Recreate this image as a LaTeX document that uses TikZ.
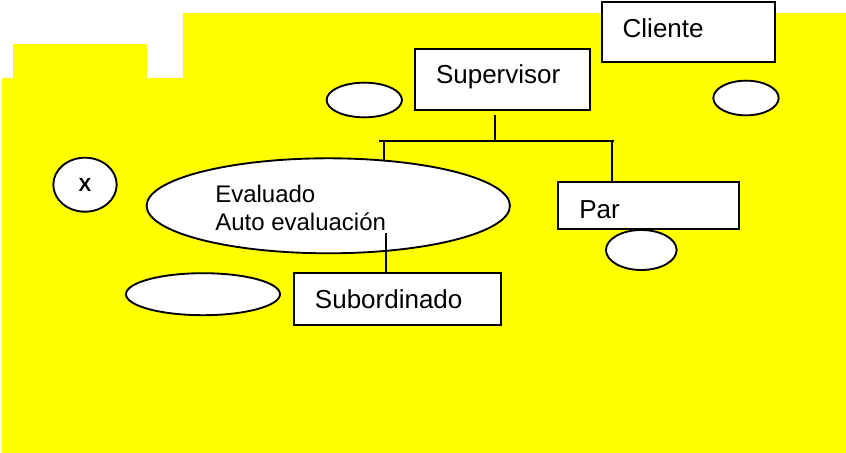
\documentclass[tikz,border=0pt]{standalone}
\usepackage{fontspec}
\setmainfont{Liberation Sans}
\usetikzlibrary{shapes.geometric}
\definecolor{bgyellow}{RGB}{255,255,0}
\tikzset{
  box/.style={draw=black, line width=1.5pt, fill=white, rectangle, inner xsep=0pt, inner ysep=0pt,
    align=left, text depth=0pt, font=\fontsize{19.5pt}{23pt}\selectfont},
  oval/.style={draw=black, line width=1.4pt, fill=white, ellipse, inner sep=0pt},
  lbl/.style={inner sep=0pt, anchor=base west, font=\fontsize{18pt}{21pt}\selectfont},
  conn/.style={draw=black, line width=1.4pt}
}
\begin{document}
\begin{tikzpicture}[x=0.75pt, y=-0.75pt]
\useasboundingbox (0,0) rectangle (846,453);
% background
\fill[bgyellow] (2,78) -- (13,78) -- (13,44) -- (147,44) -- (147,78) -- (183,78) -- (183,13)
  -- (846,13) -- (846,453) -- (2,453) -- cycle;

% boxes
\node[box, minimum width=131.5pt, minimum height=46pt, text width=99.5pt, text height=6pt]
  (sup) at (502.35,79.65) {Supervisor};
\node[box, minimum width=129.5pt, minimum height=44.8pt, text width=98.5pt, text height=8.4pt]
  (cli) at (688.35,32.15) {Cliente};
\node[box, minimum width=135.75pt, minimum height=35.25pt, text width=103.75pt, text height=19.2pt]
  (par) at (648.5,205.5) {Par};
\node[box, minimum width=155pt, minimum height=38.8pt, text width=124pt, text height=13.8pt]
  (sub) at (397.65,299.15) {Subordinado};

% ellipses
\node[oval, minimum width=56.5pt, minimum height=26pt] (ovTL) at (364.3,100) {};
\node[oval, minimum width=49pt, minimum height=26pt] (ovTR) at (746,98) {};
\node[oval, minimum width=53pt, minimum height=30pt] (ovPar) at (641.3,250) {};
\node[oval, minimum width=115.5pt, minimum height=31.5pt] (ovBL) at (203,294.2) {};
\node[oval, minimum width=47.55pt, minimum height=40.5pt, font=\fontsize{14.25pt}{17pt}\selectfont\bfseries]
  (ovX) at (85,184.7) {X};
\node[oval, minimum width=272.5pt, minimum height=71.25pt] (eval) at (328.3,205.8) {};
\node[lbl] (evl1) at (215,202.3) {Evaluado};
\node[lbl] (evl2) at (215,230) {Auto evaluación};

% connectors
\coordinate (supTop) at (495.3,115);
\coordinate (barMid) at (495.3,141);
\coordinate (barL) at (379.3,141);
\coordinate (barR) at (614,141);
\coordinate (dropL) at (383.7,141);
\coordinate (dropLend) at (383.7,160);
\coordinate (dropR) at (611.7,141);
\coordinate (subTop) at (386,233.3);

\draw[conn] (supTop) -- (barMid);
\draw[conn] (barL) -- (barR);
\draw[conn] (dropL) -- (dropLend);
\draw[conn] (dropR) -- (dropR |- par.north);
\draw[conn] (subTop) -- (subTop |- sub.north);
\end{tikzpicture}
\end{document}
